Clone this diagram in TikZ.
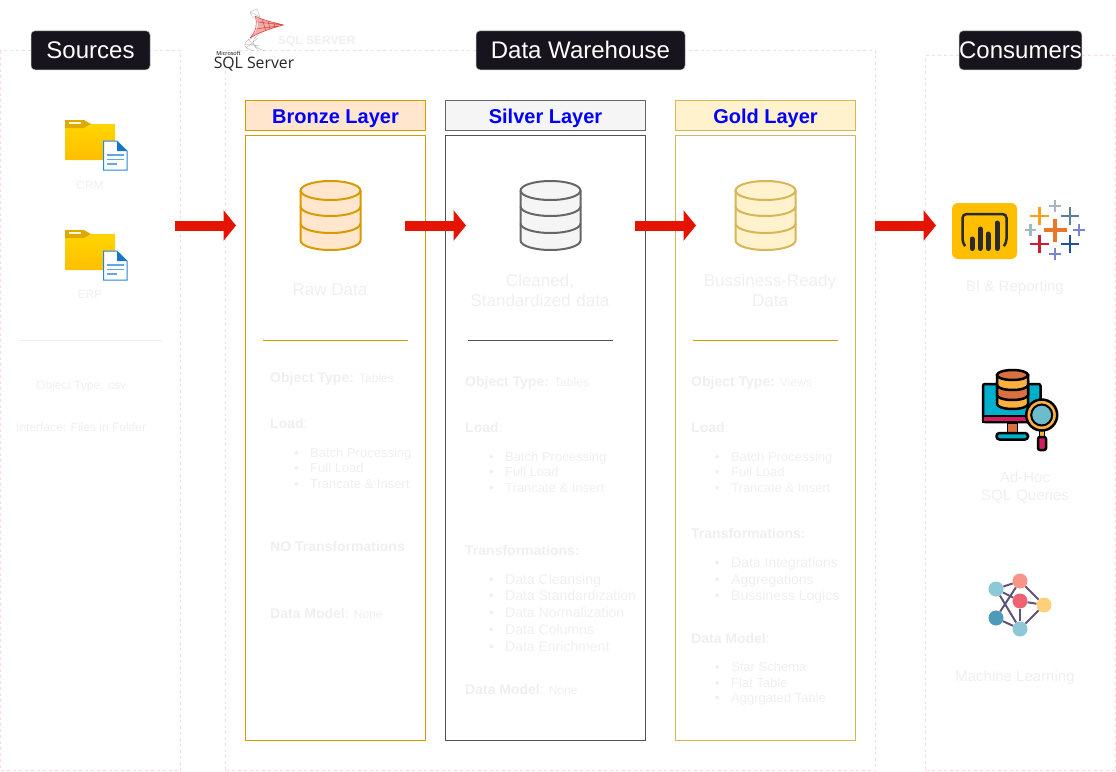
\documentclass[tikz,border=0pt]{standalone}
\usepackage{fontspec}
\setmainfont{Liberation Sans}
\newfontfamily\logofont{Open Sans}
\usetikzlibrary{positioning,arrows.meta}
\definecolor{faint}{HTML}{EFEFEF}
\definecolor{panelpink}{HTML}{FFD9E1}
\definecolor{titlebg}{HTML}{18141D}
\definecolor{bronzeline}{HTML}{D79B00}
\definecolor{bronzefill}{HTML}{FFE6CC}
\definecolor{silverline}{HTML}{666666}
\definecolor{silverfill}{HTML}{F5F5F5}
\definecolor{silverbody}{HTML}{505050}
\definecolor{goldline}{HTML}{D6B656}
\definecolor{goldfill}{HTML}{FFF2CC}
\definecolor{flowred}{HTML}{E51400}
\definecolor{netedge}{HTML}{5E5478}
\definecolor{folderhi}{HTML}{FFD500}
\definecolor{folderlo}{HTML}{FFBE00}
\definecolor{foldertab}{HTML}{E0A800}
\definecolor{docblue}{HTML}{1E88E5}
\definecolor{docline}{HTML}{64A5F0}
\definecolor{bifill}{HTML}{FFBF00}
\definecolor{bidark}{HTML}{2A2A2A}
\definecolor{tabOrange}{HTML}{E8762B}
\definecolor{tabAmber}{HTML}{F9A01B}
\definecolor{tabSlate}{HTML}{5B7F95}
\definecolor{tabRed}{HTML}{C72035}
\definecolor{tabBlue}{HTML}{1F4FA3}
\definecolor{tabMist}{HTML}{A0B8C0}
\definecolor{tabLilac}{HTML}{7C83D1}
\definecolor{scrTeal}{HTML}{00AFCB}
\definecolor{scrPink}{HTML}{D81B60}
\definecolor{dbOrange}{HTML}{D9703F}
\definecolor{dbAmber}{HTML}{FBB040}
\definecolor{lensBlue}{HTML}{6CBCCB}
\definecolor{logoRed}{HTML}{DD4B45}
\newcommand{\fsz}[1]{\fontsize{#1}{#1}\selectfont}
\newcommand{\bul}[1]{\llap{\textbullet\hspace{11.5pt}}#1}
\tikzset{
  panel/.style={draw=panelpink, dash pattern=on 3pt off 3pt, line width=1pt, anchor=north west, inner sep=0pt, outer sep=0pt},
  titlebox/.style={fill=titlebg, draw=gray!60, line width=0.5pt, rounded corners=4pt, text=white, font=\fsz{24}, minimum height=39pt, inner sep=0pt},
  layerhead/.style={anchor=north west, minimum height=30pt, inner sep=0pt, outer sep=0pt, line width=1pt, text=blue, font=\fsz{20}\bfseries, text height=18pt, text depth=3pt},
  layerbody/.style={anchor=north west, minimum height=605pt, inner sep=0pt, outer sep=0pt, line width=1pt},
  lbl/.style={anchor=west, inner sep=0pt, text=faint, font=\fsz{14}, text height=13pt, text depth=3pt},
  itemrow/.style={lbl, font=\fsz{13}},
  steprow/.style={lbl},
  small/.style={lbl, font=\fsz{12}},
  midlbl/.style={inner sep=0pt, text=faint, font=\fsz{14}, align=center},
  bigflow/.style={draw=flowred, line width=10pt, -{Triangle[length=12.5pt,width=30pt]}},
  netnode/.style={circle, minimum size=15pt, inner sep=0pt},
  netline/.style={draw=netedge, line width=2pt},
  pics/folderdoc/.style={code={
    \shade[top color=folderhi, bottom color=folderlo] (0,8) -- (19,8) -- (26,4) -- (50,4) -- (50,40) -- (0,40) -- cycle;
    \fill[foldertab] (0,0) -- (19,0) -- (26,4) -- (19,8) -- (0,8) -- cycle;
    \fill[white!85!yellow] (4,1.5) rectangle (16,3.5);
    \draw[docblue, fill=white, line width=1pt] (38.5,21) -- (52,21) -- (62,31) -- (62,50) -- (38.5,50) -- cycle;
    \fill[docblue!85!black] (52,21) -- (62,31) -- (52,31) -- cycle;
    \draw[docline, line width=1.5pt] (41.5,35) -- (59,35) (41.5,39.5) -- (59,39.5) (41.5,44) -- (52,44);
  }},
  pics/dbstack/.style 2 args={code={
    \draw[#1, fill=#2, line width=2pt] (0,10) -- (0,60) arc[start angle=180, end angle=0, x radius=30, y radius=9.5] -- (60,10) arc[start angle=0, end angle=-180, x radius=30, y radius=9.5] -- cycle;
    \draw[#1, line width=2pt] (0,10) arc[start angle=180, end angle=0, x radius=30, y radius=9.5];
    \draw[#1, line width=2pt] (0,26) arc[start angle=180, end angle=0, x radius=30, y radius=9.5];
    \draw[#1, line width=2pt] (0,43) arc[start angle=180, end angle=0, x radius=30, y radius=9.5];
  }},
}
\begin{document}
\begin{tikzpicture}[x=1pt,y=-1pt]
  \useasboundingbox (0,0) rectangle (1116,771);

  % panels
  \node (srcPanel) [panel, minimum width=180pt, minimum height=720pt] at (0.5,50.5) {};
  \node (dwPanel) [panel, minimum width=650pt, minimum height=720pt] at (225.5,50.5) {};
  \node (usePanel) [panel, minimum width=190pt, minimum height=715pt] at (925.5,55.5) {};

  \node (srcTitle) [titlebox, minimum width=119pt] at (90.5,50.3) {Sources};
  \node (dwTitle) [titlebox, minimum width=209pt] at (580.5,50.3) {Data Warehouse};
  \node (useTitle) [titlebox, minimum width=119pt] at (1020.5,50.3) {Consumers};

  % sql server logo
  \fill[logoRed!45] (255,16) .. controls (262,20) and (272,22) .. (283.5,25) .. controls (272,28) and (260,32) .. (250,38) .. controls (256,32) and (261,26) .. cycle;
  \draw[logoRed, line width=0.6pt] (255,16) .. controls (262,20) and (272,22) .. (283.5,25) .. controls (272,28) and (260,32) .. (250,38)
    (255,16) .. controls (258,24) and (256,31) .. (250,38) (262,19) -- (266,31) (268,21) -- (270,29) (274,23) -- (275,27)
    (258,22) -- (283,25) (256,29) -- (278,26);
  \draw[gray!55, line width=0.4pt] (250,12) -- (257,9) -- (260,17) -- (253,18) -- cycle (250,12) -- (260,17) (252,38) .. controls (242,42) and (242,48) .. (254,51)
    (258,35) .. controls (250,41) and (252,47) .. (265,51) (245,44) -- (260,46) (248,39) -- (258,50) (258,38) -- (246,48);
  \node (logoSmall) [inner sep=0pt, text=black, font=\logofont\fsz{5.5}] at (228.5,53.5) {Microsoft};
  \node (logoText) [inner sep=0pt, text=black!85, font=\logofont\fsz{15.8}] at (254,64) {SQL Server};
  \node (sqlLabel) [small, font=\fsz{12}\bfseries] at (278,39) {SQL SERVER};

  % sources
  \pic (crmFolder) at (65,120) {folderdoc};
  \node (crmText) [midlbl, font=\fsz{12}] at (90,185) {CRM};
  \pic (erpFolder) at (65,230) {folderdoc};
  \node (erpText) [midlbl, font=\fsz{12}] at (90,294) {ERP};
  \node (srcRuleL) [coordinate] at (18,340.5) {};
  \node (srcRuleR) [coordinate] at (163,340.5) {};
  \draw[faint, line width=1pt] (srcRuleL) -- (srcRuleR);
  \node (srcType) [small] at (36,384) {Object Type: csv};
  \node (srcIface) [small] at (16,426) {Interface: Files in Folder};

  % layers
  \node (bronzeHead) [layerhead, draw=bronzeline, fill=bronzefill, minimum width=180pt] at (245.5,100.5) {Bronze Layer};
  \node (silverHead) [layerhead, draw=silverline, fill=silverfill, minimum width=200pt] at (445.5,100.5) {Silver Layer};
  \node (goldHead) [layerhead, draw=goldline, fill=goldfill, minimum width=180pt] at (675.5,100.5) {Gold Layer};
  \node (bronzeBody) [layerbody, draw=bronzeline, minimum width=180pt] at (245.5,135.5) {};
  \node (silverBody) [layerbody, draw=silverbody, minimum width=200pt] at (445.5,135.5) {};
  \node (goldBody) [layerbody, draw=goldline, minimum width=180pt] at (675.5,135.5) {};

  \pic (bronzeDb) at (300.5,180.5) {dbstack={bronzeline}{bronzefill}};
  \pic (silverDb) at (520.5,180.5) {dbstack={silverline}{silverfill}};
  \pic (goldDb) at (735.5,180.5) {dbstack={goldline}{goldfill}};

  \node (bronzeCap) [midlbl, font=\fsz{17}] at (330,290) {Raw Data};
  \node (silverCap) [midlbl, font=\fsz{17}, text width=160pt, execute at begin node=\setlength{\baselineskip}{20pt}] at (540,290) {Cleaned,\\Standardized data};
  \node (goldCap) [midlbl, font=\fsz{17}, text width=160pt, execute at begin node=\setlength{\baselineskip}{20pt}] at (770,290) {Bussiness-Ready\\Data};

  \node (bronzeRuleL) [coordinate] at (263,340.5) {};
  \node (bronzeRuleR) [coordinate] at (408,340.5) {};
  \node (silverRuleL) [coordinate] at (468,340.5) {};
  \node (silverRuleR) [coordinate] at (613,340.5) {};
  \node (goldRuleL) [coordinate] at (693,340.5) {};
  \node (goldRuleR) [coordinate] at (838,340.5) {};
  \draw[bronzeline, line width=1pt] (bronzeRuleL) -- (bronzeRuleR);
  \draw[silverbody, line width=1pt] (silverRuleL) -- (silverRuleR);
  \draw[bronzeline, line width=1pt] (goldRuleL) -- (goldRuleR);

  % bronze text
  \node (bronzeType) [lbl] at (270,377) {\textbf{Object Type:} {\fsz{12}Tables}};
  \node (bronzeLoad) [lbl] at (270,423) {\textbf{Load}:};
  \foreach \ypos/\itemtxt [count=\i] in {452/Batch Processing,467/Full Load,483/Trancate \& Insert}
    \node (bronzeItem\i) [itemrow] at (310,\ypos) {\bul{\itemtxt}};
  \node (bronzeTrans) [lbl] at (270,546) {\textbf{NO Transformations}};
  \node (bronzeModel) [lbl] at (270,613) {\textbf{Data Model}: {\fsz{12}None}};

  % silver text
  \node (silverType) [lbl] at (465,381) {\textbf{Object Type:} {\fsz{12}Tables}};
  \node (silverLoad) [lbl] at (465,427) {\textbf{Load}:};
  \foreach \ypos/\itemtxt [count=\i] in {456/Batch Processing,471/Full Load,487/Trancate \& Insert}
    \node (silverItem\i) [itemrow] at (505,\ypos) {\bul{\itemtxt}};
  \node (silverTrans) [lbl] at (465,550) {\textbf{Transformations:}};
  \foreach \ypos/\itemtxt [count=\i] in {579/Data Cleansing,595/Data Standardization,612/Data Normalization,629/Data Columns,646/Data Enrichment}
    \node (silverStep\i) [steprow] at (505,\ypos) {\bul{\itemtxt}};
  \node (silverModel) [lbl] at (465,689) {\textbf{Data Model}: {\fsz{12}None}};

  % gold text
  \node (goldType) [lbl] at (691,381) {\textbf{Object Type:} {\fsz{12}Views}};
  \node (goldLoad) [lbl] at (691,427) {\textbf{Load}:};
  \foreach \ypos/\itemtxt [count=\i] in {456/Batch Processing,471/Full Load,487/Trancate \& Insert}
    \node (goldItem\i) [itemrow] at (731,\ypos) {\bul{\itemtxt}};
  \node (goldTrans) [lbl] at (691,533) {\textbf{Transformations:}};
  \foreach \ypos/\itemtxt [count=\i] in {562/Data Integrations,579/Aggregations,595/Bussiness Logics}
    \node (goldStep\i) [steprow] at (731,\ypos) {\bul{\itemtxt}};
  \node (goldModel) [lbl] at (691,638) {\textbf{Data Model}:};
  \foreach \ypos/\itemtxt [count=\i] in {666/Star Schema,682/Flat Table,697/Aggrgated Table}
    \node (goldShape\i) [itemrow] at (731,\ypos) {\bul{\itemtxt}};

  % flow arrows
  \coordinate (flowA) at (175,225.5);
  \coordinate (flowB) at (236,225.5);
  \coordinate (flowC) at (405,225.5);
  \coordinate (flowD) at (466,225.5);
  \coordinate (flowE) at (635,225.5);
  \coordinate (flowF) at (696,225.5);
  \coordinate (flowG) at (875,225.5);
  \coordinate (flowH) at (936,225.5);
  \draw[bigflow] (flowA) -- (flowB);
  \draw[bigflow] (flowC) -- (flowD);
  \draw[bigflow] (flowE) -- (flowF);
  \draw[bigflow] (flowG) -- (flowH);

  % power bi
  \fill[bifill, rounded corners=6pt] (952,203) rectangle (1017,259);
  \draw[bidark, line width=2.5pt, rounded corners=4pt] (965,246) -- (962.5,243) -- (962.5,214) -- (1006.5,214) -- (1006.5,243) -- (1004,246);
  \foreach \xpos/\ytop in {972/239,980/229,988/234,997/223}
    \draw[bidark, line width=5pt, line cap=round] (\xpos,\ytop) -- (\xpos,248.5);

  % tableau
  \foreach \xpos/\ypos/\arm/\wd/\col in {
    1055/230/11.5/4/tabOrange,
    1039.5/216/9.3/2.8/tabAmber,
    1070/216/9.3/2.8/tabSlate,
    1039.5/244/9.3/2.8/tabRed,
    1070/244/9.3/2.8/tabBlue,
    1055/206/5.7/2.5/tabMist,
    1030.5/230/5.7/2.5/tabMist,
    1079/230/5.7/2.5/tabLilac,
    1055/254/5.7/2.5/tabLilac}
    \draw[\col, line width=\wd pt] (\xpos-\arm,\ypos) -- (\xpos+\arm,\ypos) (\xpos,\ypos-\arm) -- (\xpos,\ypos+\arm);
  \node (biText) [midlbl, font=\fsz{15}] at (1015,287.5) {BI \& Reporting};

  % ad-hoc icon
  \draw[black, fill=scrTeal, line width=2.5pt, rounded corners=2pt] (983,384) rectangle (1040.5,422);
  \draw[black, fill=scrPink, line width=2pt] (983,416) rectangle (1040.5,422);
  \draw[black, fill=dbOrange, line width=1pt] (1007,423) rectangle (1017,433);
  \draw[black, fill=scrTeal, line width=2.5pt, rounded corners=3pt] (996.5,433) rectangle (1028,439.5);
  \draw[black, fill=dbAmber, line width=2.5pt] (997,375) -- (997,404) arc[start angle=180, end angle=0, x radius=15.5, y radius=5] -- (1028,375) -- cycle;
  \draw[black, fill=dbOrange, line width=2.5pt] (997,385) arc[start angle=180, end angle=0, x radius=15.5, y radius=5] -- (1028,395) arc[start angle=0, end angle=180, x radius=15.5, y radius=5] -- cycle;
  \draw[black, fill=dbOrange, line width=2.5pt] (1012.5,375) ellipse[x radius=15.5, y radius=5];
  \draw[black, fill=dbAmber, line width=1pt] (1039.5,429) rectangle (1044,437);
  \draw[black, fill=scrPink, line width=2.5pt, rounded corners=2pt] (1038,437) rectangle (1046,450);
  \draw[black, fill=dbAmber, line width=2.5pt] (1041.7,415) circle[radius=15.5];
  \draw[black, fill=lensBlue, line width=2pt] (1041.7,415) circle[radius=10.5];
  \node (adhocText) [midlbl, font=\fsz{15}, text width=120pt, execute at begin node=\setlength{\baselineskip}{18pt}] at (1025,487) {Ad-Hoc\\SQL Queries};

  % machine learning icon
  \node (mlTop) [netnode, fill={rgb,255:red,248;green,148;blue,138}] at (1020,581) {};
  \node (mlUpper) [netnode, fill={rgb,255:red,140;green,200;blue,216}] at (996,589) {};
  \node (mlCore) [netnode, fill={rgb,255:red,239;green,98;blue,114}] at (1020,601) {};
  \node (mlRight) [netnode, fill={rgb,255:red,255;green,207;blue,122}] at (1044,605) {};
  \node (mlLower) [netnode, fill={rgb,255:red,78;green,154;blue,187}] at (996,618) {};
  \node (mlBottom) [netnode, fill={rgb,255:red,140;green,200;blue,216}] at (1020,629) {};
  \draw[netline] (mlUpper) -- (mlTop);
  \draw[netline] (mlTop) -- (mlLower);
  \draw[netline] (mlTop) -- (mlRight);
  \draw[netline] (mlUpper) -- (mlCore);
  \draw[netline] (mlUpper) -- (mlBottom);
  \draw[netline] (mlCore) -- (mlRight);
  \draw[netline] (mlCore) -- (mlBottom);
  \draw[netline] (mlRight) -- (mlBottom);
  \draw[netline] (mlLower) -- (mlBottom);
  \node (mlText) [midlbl, font=\fsz{15}] at (1015,677.5) {Machine Learning};
\end{tikzpicture}
\end{document}
